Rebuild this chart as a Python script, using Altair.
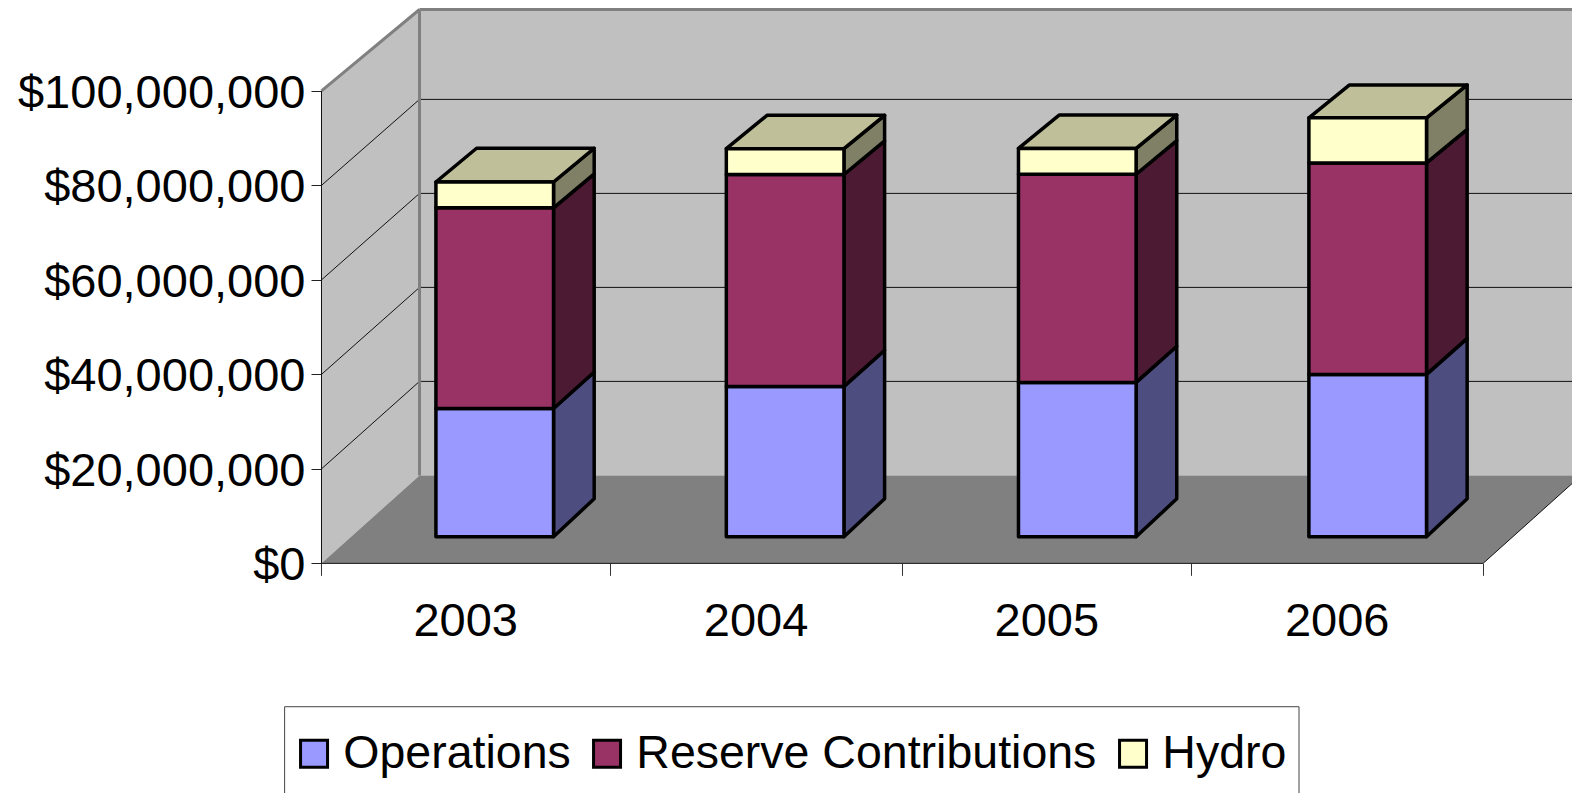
import altair as alt
import pandas as pd

years = ["2003", "2004", "2005", "2006"]
series = ["Operations", "Reserve Contributions", "Hydro"]
operations = [27.3e6, 32.0e6, 32.85e6, 34.55e6]
reserve = [42.7e6, 45.1e6, 44.3e6, 45.0e6]
hydro = [5.5e6, 5.5e6, 5.5e6, 9.6e6]
front_colors = ["#9999FF", "#993366", "#FFFFCC"]
side_colors = ["#4D4D80", "#4D1A33", "#808066"]
top_color = "#BFBF99"
y_ticks = [0, 20e6, 40e6, 60e6, 80e6, 100e6]
cat_edges = [0, 0.993, 2, 2.995, 4]

# Oblique projection of the 3-D box, in data units (categories, dollars)
DU, DV = 0.3375, 18.62e6       # full floor depth
BACK = 0.9947                  # back wall value factor
WALL_TOP = 98.6e6
BAR_U, BAR_V = 0.10, 5.63e6    # bar front plane
BAR_DU, BAR_DV = 0.14, 8.04e6  # bar depth
BAR_W = 0.405
BAR_K = 0.9945
BAR_BACK = 0.988               # bar back plane value factor
NUDGE = [0.0, 0.0, 0.005, 0.005]
XDOM = [-1.0795, 4.306]
YDOM = [-48.6e6, 117.54e6]
FONT = "Liberation Sans"

x_axis = alt.Axis(values=cat_edges, labels=False, title=None, domain=False, grid=False,
                  tickSize=12, tickColor="#333333", tickWidth=1, offset=-(785 - 555.3))
y_axis = alt.Axis(values=y_ticks, format="$,.0f", title=None, domain=False, grid=False,
                  tickSize=10.5, tickColor="#222222", tickWidth=1, labelFontSize=47,
                  labelFont=FONT, labelColor="black", labelPadding=6, labelOverlap=False,
                  labelBound=False, labelFlush=False, labelLimit=0, labelOffset=2.5, offset=-313.5)
X = lambda f="x": alt.X(f"{f}:Q", scale=alt.Scale(domain=XDOM, nice=False, zero=False), axis=x_axis)
Y = lambda f="y": alt.Y(f"{f}:Q", scale=alt.Scale(domain=YDOM, nice=False, zero=False), axis=y_axis, stack=None)
Y2 = alt.Y2("y2:Q")
X2 = alt.X2("x2:Q")

walls, lines, sides, fronts = [], [], [], []


def poly(rows, pid, xs, lows, highs, col):
    for x, l, h in zip(xs, lows, highs):
        rows.append(dict(id=pid, x=x, y=l, y2=h, fill=col))


poly(walls, "back", [DU, 4 + DU], [DV, DV], [DV + WALL_TOP, DV + WALL_TOP], "#C0C0C0")
poly(walls, "left", [0, DU], [0, DV], [y_ticks[-1], DV + WALL_TOP], "#C0C0C0")
poly(walls, "floor", [0, DU, 4, 4 + DU], [0, 0, 0, DV], [0, DV, DV, DV], "#808080")


def line(pid, pts, col="#111111", w=1):
    for i, (x, y) in enumerate(pts):
        lines.append(dict(id=pid, x=x, y=y, o=i, col=col, w=w))


for v in y_ticks[1:-1]:
    line(f"s{v}", [(0, v), (DU, DV + v * BACK)])
    line(f"b{v}", [(DU, DV + v * BACK), (4 + DU, DV + v * BACK)])
line("axis", [(0, 0), (0, y_ticks[-1])])
line("front", [(0, 0), (4, 0)])
line("diag", [(4, 0), (4 + DU, DV)])
line("e1", [(0, y_ticks[-1]), (DU, DV + WALL_TOP)], "#808080", 3)
line("e2", [(DU, DV + WALL_TOP), (4 + DU, DV + WALL_TOP)], "#808080", 3)
line("e3", [(DU, DV), (DU, DV + WALL_TOP)], "#808080", 3)

for i, yr in enumerate(years):
    c = (cat_edges[i] + cat_edges[i + 1]) / 2 + BAR_U + NUDGE[i]
    L, R = c - BAR_W / 2, c + BAR_W / 2
    base = 0.0
    for s, (name, vals) in enumerate(zip(series, [operations, reserve, hydro])):
        top = base + vals[i]
        y0, y1 = BAR_V + base * BAR_K, BAR_V + top * BAR_K
        b0, b1 = BAR_V + BAR_DV + base * BAR_K * BAR_BACK, BAR_V + BAR_DV + top * BAR_K * BAR_BACK
        fronts.append(dict(x=L, x2=R, y=y0, y2=y1, series=name))
        poly(sides, f"{yr}-{name}", [R, R + BAR_DU], [y0, b0], [y1, b1], side_colors[s])
        base = top
    poly(sides, f"{yr}-top", [L, L + BAR_DU, R, R + BAR_DU],
         [y1, y1, y1, b1], [y1, b1, b1, b1], top_color)

labels = pd.DataFrame(dict(
    x=[(cat_edges[i] + cat_edges[i + 1]) / 2 for i in range(4)],
    y=[-12.5e6] * 4, year=years))

wall_layer = alt.Chart(pd.DataFrame(walls)).mark_area(orient="vertical", clip=True).encode(
    x=X(), y=Y(), y2=Y2, detail="id:N", fill=alt.Fill("fill:N", scale=None))
line_layer = alt.Chart(pd.DataFrame(lines)).mark_line(clip=True).encode(
    x=X(), y=Y(), detail="id:N", order="o:Q",
    stroke=alt.Stroke("col:N", scale=None), strokeWidth=alt.StrokeWidth("w:Q", scale=None))
side_layer = alt.Chart(pd.DataFrame(sides)).mark_area(
    orient="vertical", stroke="black", strokeWidth=3.5, strokeJoin="round").encode(
    x=X(), y=Y(), y2=Y2, detail="id:N", fill=alt.Fill("fill:N", scale=None))
front_layer = alt.Chart(pd.DataFrame(fronts)).mark_rect(
    stroke="black", strokeWidth=3.5, strokeJoin="round", opacity=1).encode(
    x=X(), x2=X2, y=Y(), y2=Y2,
    color=alt.Color("series:N",
                    scale=alt.Scale(domain=series, range=front_colors),
                    sort=series,
                    legend=alt.Legend(orient="none", legendX=282.8, legendY=722.3, direction="horizontal",
                                      columns=3, title=None, labelFontSize=46.5, labelFont=FONT,
                                      labelColor="black", symbolType="square", symbolSize=729,
                                      symbolStrokeColor="black", symbolStrokeWidth=3, symbolOpacity=1,
                                      labelOffset=6, columnPadding=13, padding=0, labelLimit=800)))
year_layer = alt.Chart(labels).mark_text(fontSize=47, font=FONT, color="black", align="center",
                                         baseline="middle").encode(x=X(), y=Y(), text="year:N")
box = pd.DataFrame(dict(x=[-0.127], x2=[3.366], y=[-30.34e6], y2=[-60e6]))
box_layer = alt.Chart(box).mark_rect(fill="white", stroke="#444444", strokeWidth=1, clip=True).encode(
    x=X(), x2=X2, y=Y(), y2=Y2)

chart = alt.layer(wall_layer, line_layer, side_layer, front_layer, year_layer, box_layer).properties(
    width=1564, height=785, padding=0, autosize=alt.AutoSizeParams(type="none"), background="white"
).configure_view(stroke=None)

chart.save("out.html", embed_options={"renderer": "svg", "actions": False})
